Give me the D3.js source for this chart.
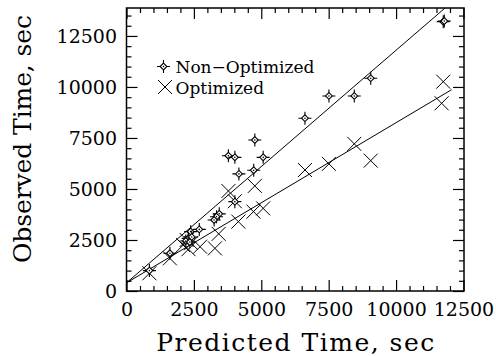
<!DOCTYPE html>
<html>
<head>
<meta charset="utf-8">
<script src="https://cdn.jsdelivr.net/npm/d3@7"></script>
<style>
  body { margin: 0; background: #fff; }
  svg { display: block; }
  text { font-family: "DejaVu Serif", serif; fill: #000; }
</style>
</head>
<body>
<svg id="svg" width="496" height="356"></svg>
<script>
// predicted vs observed times (sec)
const nonOptPredicted = [11750, 11790, 9060, 8450, 7510, 6620, 4760, 5070, 4720, 3780, 4020, 4170, 4020,
  3440, 3340, 3250, 2700, 2380, 2290, 2200, 2350, 2420, 1610, 850];
const nonOptObserved = [13200, 13230, 10430, 9560, 9560, 8470, 7400, 6550, 5920, 6630, 6550, 5740, 4380,
  3780, 3640, 3480, 3020, 2910, 2580, 2450, 2400, 2650, 1850, 1000];

const optPredicted = [11750, 11690, 8450, 9060, 7510, 6620, 4760, 3780, 4020, 4710, 5070, 4150, 3420,
  3280, 2730, 2230, 2100, 2400, 2300, 1610, 850];
const optObserved = [10260, 9200, 7210, 6390, 6230, 5930, 5150, 4900, 4400, 3890, 4050, 3400, 2800,
  2090, 2170, 2500, 2250, 2350, 2050, 1600, 870];

// fitted lines: [intercept, slope, x end]
const fitNonOpt = [400, 1.14, 12500];
const fitOpt = [400, 0.785, 12060];

const majorTicks = [0, 2500, 5000, 7500, 10000, 12500];
const minorStep = 500;

const legendLabels = ["Non\u2212Optimized", "Optimized"];

const svg = d3.select("#svg");
const plotL = 126.5, plotR = 464, plotT = 8, plotB = 291;

const x = d3.scaleLinear().domain([0, 12520]).range([plotL, plotR]);
const y = d3.scaleLinear().domain([0, 13870]).range([plotB, plotT]);

const minorX = d3.range(0, 12520, minorStep).filter((v) => v % 2500 !== 0);
const minorY = d3.range(0, 13870, minorStep).filter((v) => v % 2500 !== 0);

// clip for the fit lines
svg.append("clipPath").attr("id", "plot-clip")
  .append("rect")
  .attr("x", plotL).attr("y", plotT)
  .attr("width", plotR - plotL).attr("height", plotB - plotT);

// axes, ticks pointing inward on all four sides
function drawAxis(axisFn, scale, values, size, transform, labels, pad) {
  const g = svg.append("g")
    .attr("transform", transform)
    .call(axisFn(scale)
      .tickValues(values)
      .tickSizeInner(-size)
      .tickSizeOuter(0)
      .tickPadding(pad || 0)
      .tickFormat(labels ? d3.format("d") : ""));
  g.select(".domain").remove();
  g.selectAll(".tick line").attr("stroke", "#000").attr("stroke-width", 1.2);
  g.selectAll("text")
    .style("font-family", "DejaVu Serif, serif")
    .style("font-size", "19px")
    .attr("fill", "#000");
  return g;
}

drawAxis(d3.axisBottom, x, majorTicks, 11, `translate(0,${plotB})`, true, 12);
drawAxis(d3.axisBottom, x, minorX, 5, `translate(0,${plotB})`, false);
drawAxis(d3.axisTop, x, majorTicks, 11, `translate(0,${plotT})`, false);
drawAxis(d3.axisTop, x, minorX, 5, `translate(0,${plotT})`, false);
drawAxis(d3.axisLeft, y, majorTicks, 11, `translate(${plotL},0)`, true, 9.5);
drawAxis(d3.axisLeft, y, minorY, 5, `translate(${plotL},0)`, false);
drawAxis(d3.axisRight, y, majorTicks, 11, `translate(${plotR},0)`, false);
drawAxis(d3.axisRight, y, minorY, 5, `translate(${plotR},0)`, false);

// frame
svg.append("rect")
  .attr("x", plotL).attr("y", plotT)
  .attr("width", plotR - plotL).attr("height", plotB - plotT)
  .attr("fill", "none")
  .attr("stroke", "#000")
  .attr("stroke-width", 1.5);

// fit lines
const line = d3.line().x((d) => x(d[0])).y((d) => y(d[1]));
[fitNonOpt, fitOpt].forEach((f) => {
  const pts = [[0, f[0]], [f[2], f[0] + f[1] * f[2]]];
  svg.append("path")
    .attr("d", line(pts))
    .attr("clip-path", "url(#plot-clip)")
    .attr("fill", "none")
    .attr("stroke", "#000")
    .attr("stroke-width", 1);
});

// markers
const starPath = "M-6.5,0H-3.2M3.2,0H6.5M0,-6.5V-3.2M0,3.2V6.5";
const diamondPath = "M0,-3.4L3.4,0L0,3.4L-3.4,0Z";
const crossPath = "M-7,-7L7,7M-7,7L7,-7";

function drawStar(g) {
  g.append("path").attr("d", starPath).attr("stroke", "#000").attr("stroke-width", 1.1);
  g.append("path").attr("d", diamondPath)
    .attr("fill", "#fff").attr("stroke", "#000").attr("stroke-width", 1.1);
  g.append("circle").attr("r", 0.8).attr("fill", "#000");
}
function drawCross(g) {
  g.append("path").attr("d", crossPath).attr("stroke", "#000").attr("stroke-width", 1);
}

svg.append("g")
  .selectAll(".opt")
  .data(d3.zip(optPredicted, optObserved))
  .join("g")
  .attr("class", "opt")
  .attr("transform", (d) => `translate(${x(d[0])},${y(d[1])})`)
  .each(function () { drawCross(d3.select(this)); });

svg.append("g")
  .selectAll(".nonopt")
  .data(d3.zip(nonOptPredicted, nonOptObserved))
  .join("g")
  .attr("class", "nonopt")
  .attr("transform", (d) => `translate(${x(d[0])},${y(d[1])})`)
  .each(function () { drawStar(d3.select(this)); });

// legend
const legend = svg.append("g");
const l1 = legend.append("g").attr("transform", "translate(163.5,66.5)");
drawStar(l1);
const l2 = legend.append("g").attr("transform", "translate(165,87)");
drawCross(l2);
legend.selectAll("text")
  .data(legendLabels)
  .join("text")
  .attr("x", 175.5)
  .attr("y", (d, i) => 73 + i * 20.5)
  .style("font-size", "17px")
  .text((d) => d);

// axis titles
svg.append("text")
  .attr("x", (plotL + plotR) / 2)
  .attr("y", 351)
  .attr("text-anchor", "middle")
  .attr("textLength", 278)
  .attr("lengthAdjust", "spacing")
  .style("font-size", "25px")
  .text("Predicted Time, sec");

svg.append("text")
  .attr("transform", "translate(31,139) rotate(-90)")
  .attr("text-anchor", "middle")
  .attr("textLength", 248)
  .attr("lengthAdjust", "spacing")
  .style("font-size", "25px")
  .text("Observed Time, sec");
</script>
</body>
</html>
